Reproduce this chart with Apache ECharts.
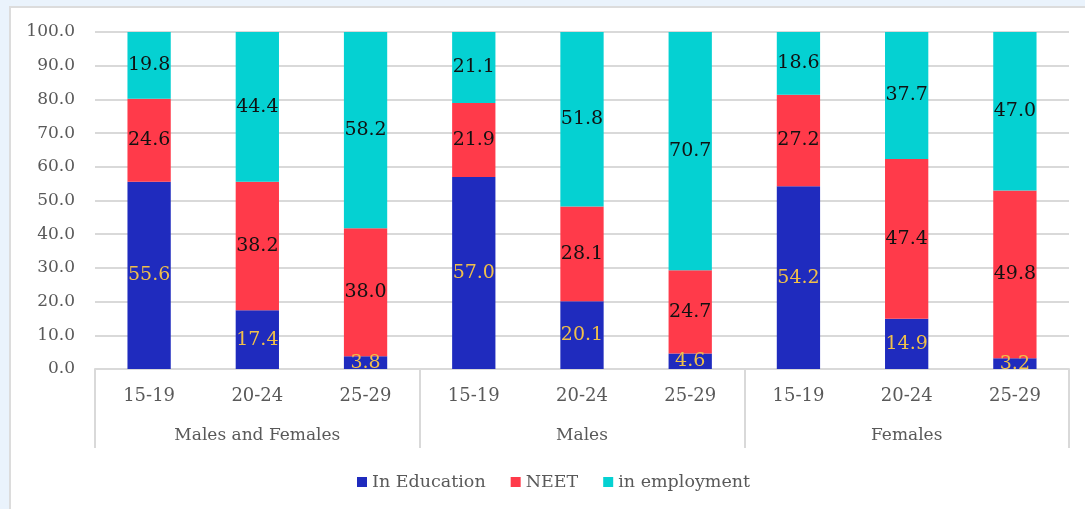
<!DOCTYPE html>
<html>
<head>
<meta charset="utf-8">
<script src="https://cdn.jsdelivr.net/npm/echarts@6/dist/echarts.min.js"></script>
<style>
  html, body { margin: 0; padding: 0; width: 1085px; height: 509px; overflow: hidden; background: #eaf3fc; }
  #frame { position: absolute; left: 9px; top: 6px; width: 1090px; height: 520px; background: #ffffff; border: 2px solid #dcdcdc; box-sizing: border-box; }
  #chart { position: absolute; left: 0; top: 0; width: 1085px; height: 509px; }
</style>
</head>
<body>
<div id="frame"></div>
<div id="chart"></div>
<script>
// Age bands within each population group
const ageBands = ['15-19', '20-24', '25-29', '15-19', '20-24', '25-29', '15-19', '20-24', '25-29'];
const groups = ['Males and Females', 'Males', 'Females'];

// Shares (%) by activity status
const inEducation = [55.6, 17.4, 3.8, 57.0, 20.1, 4.6, 54.2, 14.9, 3.2];
const neet = [24.6, 38.2, 38.0, 21.9, 28.1, 24.7, 27.2, 47.4, 49.8];
const inEmployment = [19.8, 44.4, 58.2, 21.1, 51.8, 70.7, 18.6, 37.7, 47.0];

const yTicks = { min: 0, max: 100, interval: 10 };

const FONT = 'DejaVu Serif';
const GRID_COLOR = '#d9d9d9';
const TEXT_GRAY = '#595959';

function seriesOf(name, data, color, labelColor) {
  return {
    name: name,
    type: 'bar',
    stack: 'total',
    barWidth: '40%',
    data: data,
    itemStyle: { color: color },
    label: {
      show: true,
      position: 'inside',
      color: labelColor,
      fontFamily: FONT,
      fontSize: 19,
      formatter: p => p.value.toFixed(1)
    }
  };
}

const chart = echarts.init(document.getElementById('chart'), null, { renderer: 'canvas' });
chart.setOption({
  animation: false,
  backgroundColor: 'transparent',
  textStyle: { fontFamily: FONT },
  grid: { left: 95, right: 16, top: 32, bottom: 140, containLabel: false },
  legend: {
    left: 352,
    top: 468,
    icon: 'rect',
    itemWidth: 10,
    itemHeight: 10,
    itemGap: 25,
    textStyle: { fontFamily: FONT, fontSize: 17.5, color: TEXT_GRAY },
    data: ['In Education', 'NEET', 'in employment']
  },
  xAxis: [
    {
      type: 'category',
      data: ageBands,
      position: 'bottom',
      axisLine: { show: true, lineStyle: { color: GRID_COLOR, width: 2 } },
      axisTick: { show: false },
      axisLabel: { margin: 18, color: TEXT_GRAY, fontFamily: FONT, fontSize: 18 }
    },
    {
      type: 'category',
      data: groups,
      position: 'bottom',
      axisLine: { show: false },
      axisTick: { show: true, length: 79, lineStyle: { color: GRID_COLOR, width: 2 } },
      axisLabel: { margin: 58, color: TEXT_GRAY, fontFamily: FONT, fontSize: 17 },
      splitLine: { show: false }
    }
  ],
  yAxis: {
    type: 'value',
    min: yTicks.min,
    max: yTicks.max,
    interval: yTicks.interval,
    axisLine: { show: false },
    axisTick: { show: false },
    splitLine: { lineStyle: { color: GRID_COLOR, width: 2 } },
    axisLabel: {
      margin: 20,
      color: TEXT_GRAY,
      fontFamily: FONT,
      fontSize: 17,
      formatter: v => v.toFixed(1)
    }
  },
  series: [
    seriesOf('In Education', inEducation, '#1f2bbe', '#f0c04a'),
    seriesOf('NEET', neet, '#ff3a4a', '#111111'),
    seriesOf('in employment', inEmployment, '#05d1d2', '#111111')
  ]
});
</script>
</body>
</html>
